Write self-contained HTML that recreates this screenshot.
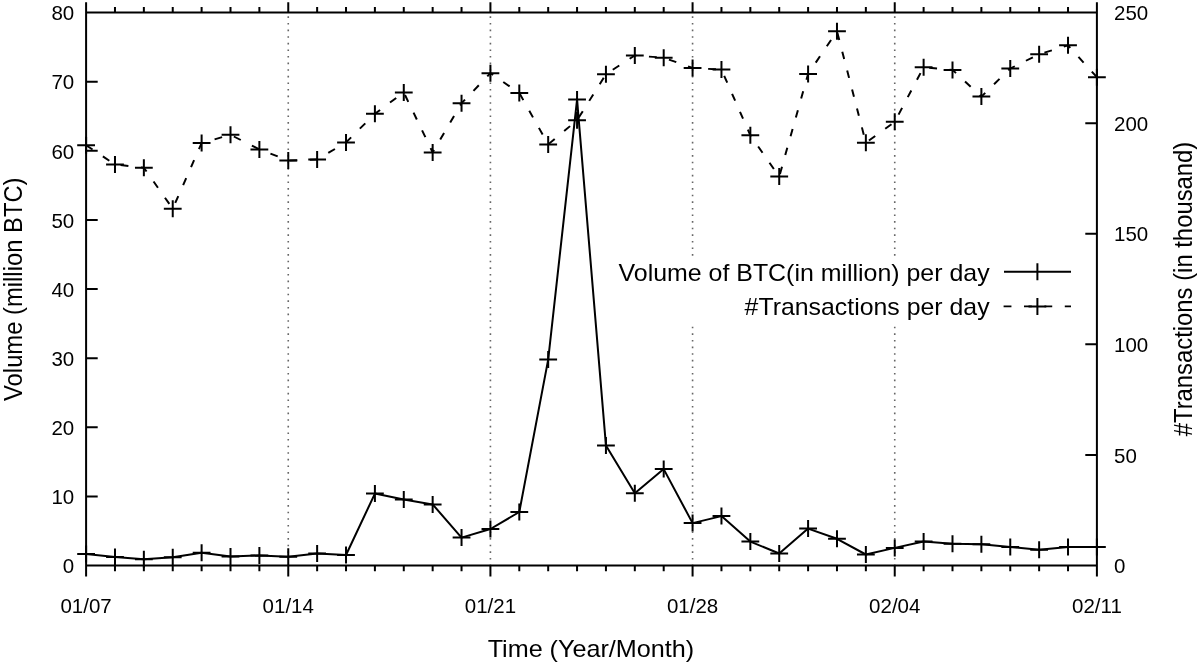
<!DOCTYPE html><html><head><meta charset="utf-8"><style>html,body{margin:0;padding:0;background:#fff;}svg{display:block;will-change:transform;}text{font-family:"Liberation Sans",sans-serif;fill:#000;}</style></head><body>
<svg width="1200" height="666" viewBox="0 0 1200 666">
<rect x="0" y="0" width="1200" height="666" fill="#fff"/>
<path d="M288.26 566.1V13.6" stroke="#666" stroke-width="1.6" stroke-dasharray="1.6 5.004" fill="none"/>
<path d="M490.42 566.1V13.6" stroke="#666" stroke-width="1.6" stroke-dasharray="1.6 5.004" fill="none"/>
<path d="M692.58 566.1V13.6" stroke="#666" stroke-width="1.6" stroke-dasharray="1.6 5.004" fill="none"/>
<path d="M894.74 566.1V13.6" stroke="#666" stroke-width="1.6" stroke-dasharray="1.6 5.004" fill="none"/>
<path d="M86.1 12.6H1096.9V565.5H86.1ZM86.1 565.5V576.6M86.1 12.6V2.3M114.98 565.5V571.2M114.98 12.6V7M143.86 565.5V571.2M143.86 12.6V7M172.74 565.5V571.2M172.74 12.6V7M201.62 565.5V571.2M201.62 12.6V7M230.5 565.5V571.2M230.5 12.6V7M259.38 565.5V571.2M259.38 12.6V7M288.26 565.5V576.6M288.26 12.6V2.3M317.14 565.5V571.2M317.14 12.6V7M346.02 565.5V571.2M346.02 12.6V7M374.9 565.5V571.2M374.9 12.6V7M403.78 565.5V571.2M403.78 12.6V7M432.66 565.5V571.2M432.66 12.6V7M461.54 565.5V571.2M461.54 12.6V7M490.42 565.5V576.6M490.42 12.6V2.3M519.3 565.5V571.2M519.3 12.6V7M548.18 565.5V571.2M548.18 12.6V7M577.06 565.5V571.2M577.06 12.6V7M605.94 565.5V571.2M605.94 12.6V7M634.82 565.5V571.2M634.82 12.6V7M663.7 565.5V571.2M663.7 12.6V7M692.58 565.5V576.6M692.58 12.6V2.3M721.46 565.5V571.2M721.46 12.6V7M750.34 565.5V571.2M750.34 12.6V7M779.22 565.5V571.2M779.22 12.6V7M808.1 565.5V571.2M808.1 12.6V7M836.98 565.5V571.2M836.98 12.6V7M865.86 565.5V571.2M865.86 12.6V7M894.74 565.5V576.6M894.74 12.6V2.3M923.62 565.5V571.2M923.62 12.6V7M952.5 565.5V571.2M952.5 12.6V7M981.38 565.5V571.2M981.38 12.6V7M1010.26 565.5V571.2M1010.26 12.6V7M1039.14 565.5V571.2M1039.14 12.6V7M1068.02 565.5V571.2M1068.02 12.6V7M1096.9 565.5V576.6M1096.9 12.6V2.3M86.1 496.39h11.6M86.1 427.27h11.6M86.1 358.16h11.6M86.1 289.05h11.6M86.1 219.94h11.6M86.1 150.83h11.6M86.1 81.71h11.6M1096.9 454.92h-11.6M1096.9 344.34h-11.6M1096.9 233.76h-11.6M1096.9 123.18h-11.6" stroke="#000" stroke-width="2.0" fill="none"/>
<text transform="translate(74.2 573.2) scale(1.025 1)" font-size="20" text-anchor="end">0</text>
<text transform="translate(74.2 504.09) scale(1.025 1)" font-size="20" text-anchor="end">10</text>
<text transform="translate(74.2 434.97) scale(1.025 1)" font-size="20" text-anchor="end">20</text>
<text transform="translate(74.2 365.86) scale(1.025 1)" font-size="20" text-anchor="end">30</text>
<text transform="translate(74.2 296.75) scale(1.025 1)" font-size="20" text-anchor="end">40</text>
<text transform="translate(74.2 227.64) scale(1.025 1)" font-size="20" text-anchor="end">50</text>
<text transform="translate(74.2 158.53) scale(1.025 1)" font-size="20" text-anchor="end">60</text>
<text transform="translate(74.2 89.41) scale(1.025 1)" font-size="20" text-anchor="end">70</text>
<text transform="translate(74.2 20.3) scale(1.025 1)" font-size="20" text-anchor="end">80</text>
<text transform="translate(1114 573.2) scale(1.025 1)" font-size="20">0</text>
<text transform="translate(1114 462.62) scale(1.025 1)" font-size="20">50</text>
<text transform="translate(1114 352.04) scale(1.025 1)" font-size="20">100</text>
<text transform="translate(1114 241.46) scale(1.025 1)" font-size="20">150</text>
<text transform="translate(1114 130.88) scale(1.025 1)" font-size="20">200</text>
<text transform="translate(1114 20.3) scale(1.025 1)" font-size="20">250</text>
<text transform="translate(86.1 612.8) scale(1.025 1)" font-size="20" text-anchor="middle">01/07</text>
<text transform="translate(288.26 612.8) scale(1.025 1)" font-size="20" text-anchor="middle">01/14</text>
<text transform="translate(490.42 612.8) scale(1.025 1)" font-size="20" text-anchor="middle">01/21</text>
<text transform="translate(692.58 612.8) scale(1.025 1)" font-size="20" text-anchor="middle">01/28</text>
<text transform="translate(894.74 612.8) scale(1.025 1)" font-size="20" text-anchor="middle">02/04</text>
<text transform="translate(1096.9 612.8) scale(1.025 1)" font-size="20" text-anchor="middle">02/11</text>
<text x="590.9" y="656.8" font-size="24" text-anchor="middle" textLength="206.5" lengthAdjust="spacingAndGlyphs">Time (Year/Month)</text>
<text transform="translate(22 289.2) scale(1.046 1) rotate(-90)" font-size="24" text-anchor="middle" textLength="223.5" lengthAdjust="spacingAndGlyphs">Volume (million BTC)</text>
<text transform="translate(1191.5 289) scale(1.046 1) rotate(-90)" font-size="24" text-anchor="middle" textLength="294.5" lengthAdjust="spacingAndGlyphs">#Transactions (in thousand)</text>
<g transform="scale(1.046 1)"><path d="M82.31 145.3 L109.92 164.4 L137.53 167.7 L165.14 208.7 L192.75 143 L220.36 134.8 L247.97 149.4 L275.58 160.5 L303.19 159.5 L330.8 142.4 L358.41 113.8 L386.02 92.4 L413.63 152.4 L441.24 103.2 L468.85 73.2 L496.46 93 L524.07 144.4 L551.68 120.3 L579.29 74.2 L606.9 55.5 L634.51 57.7 L662.12 68 L689.73 69.6 L717.34 135.3 L744.95 176.6 L772.56 73.9 L800.17 31.2 L827.78 142.7 L855.39 121.8 L883 67.2 L910.61 69.9 L938.22 96.6 L965.83 68.5 L993.44 54.2 L1021.05 45.3 L1048.66 77.2" stroke="#000" stroke-width="1.9" fill="none" stroke-dasharray="7.5 12" stroke-linejoin="round"/></g>
<path d="M77.2 145.3h17.8M86.1 136.8v17M106.08 164.4h17.8M114.98 155.9v17M134.96 167.7h17.8M143.86 159.2v17M163.84 208.7h17.8M172.74 200.2v17M192.72 143h17.8M201.62 134.5v17M221.6 134.8h17.8M230.5 126.3v17M250.48 149.4h17.8M259.38 140.9v17M279.36 160.5h17.8M288.26 152v17M308.24 159.5h17.8M317.14 151v17M337.12 142.4h17.8M346.02 133.9v17M366 113.8h17.8M374.9 105.3v17M394.88 92.4h17.8M403.78 83.9v17M423.76 152.4h17.8M432.66 143.9v17M452.64 103.2h17.8M461.54 94.7v17M481.52 73.2h17.8M490.42 64.7v17M510.4 93h17.8M519.3 84.5v17M539.28 144.4h17.8M548.18 135.9v17M568.16 120.3h17.8M577.06 111.8v17M597.04 74.2h17.8M605.94 65.7v17M625.92 55.5h17.8M634.82 47v17M654.8 57.7h17.8M663.7 49.2v17M683.68 68h17.8M692.58 59.5v17M712.56 69.6h17.8M721.46 61.1v17M741.44 135.3h17.8M750.34 126.8v17M770.32 176.6h17.8M779.22 168.1v17M799.2 73.9h17.8M808.1 65.4v17M828.08 31.2h17.8M836.98 22.7v17M856.96 142.7h17.8M865.86 134.2v17M885.84 121.8h17.8M894.74 113.3v17M914.72 67.2h17.8M923.62 58.7v17M943.6 69.9h17.8M952.5 61.4v17M972.48 96.6h17.8M981.38 88.1v17M1001.36 68.5h17.8M1010.26 60v17M1030.24 54.2h17.8M1039.14 45.7v17M1059.12 45.3h17.8M1068.02 36.8v17M1088 77.2h17.8M1096.9 68.7v17" stroke="#000" stroke-width="2.0" fill="none"/>
<path d="M86.1 554 L114.98 557 L143.86 559.25 L172.74 557.3 L201.62 552.8 L230.5 556.55 L259.38 555.5 L288.26 556.7 L317.14 553.5 L346.02 555 L374.9 493.6 L403.78 499.6 L432.66 504.4 L461.54 537.6 L490.42 529 L519.3 512 L548.18 359.6 L577.06 99.6 L605.94 445.4 L634.82 493.2 L663.7 469.1 L692.58 523.1 L721.46 516.1 L750.34 541.6 L779.22 553.5 L808.1 528.6 L836.98 538.8 L865.86 554.5 L894.74 547.9 L923.62 541.5 L952.5 543.7 L981.38 544.25 L1010.26 547 L1039.14 549.75 L1068.02 547 L1096.9 547" stroke="#000" stroke-width="2.0" fill="none" stroke-linejoin="round"/>
<path d="M77.2 554h17.8M86.1 545.5v17M106.08 557h17.8M114.98 548.5v17M134.96 559.25h17.8M143.86 550.75v17M163.84 557.3h17.8M172.74 548.8v17M192.72 552.8h17.8M201.62 544.3v17M221.6 556.55h17.8M230.5 548.05v17M250.48 555.5h17.8M259.38 547v17M279.36 556.7h17.8M288.26 548.2v17M308.24 553.5h17.8M317.14 545v17M337.12 555h17.8M346.02 546.5v17M366 493.6h17.8M374.9 485.1v17M394.88 499.6h17.8M403.78 491.1v17M423.76 504.4h17.8M432.66 495.9v17M452.64 537.6h17.8M461.54 529.1v17M481.52 529h17.8M490.42 520.5v17M510.4 512h17.8M519.3 503.5v17M539.28 359.6h17.8M548.18 351.1v17M568.16 99.6h17.8M577.06 91.1v17M597.04 445.4h17.8M605.94 436.9v17M625.92 493.2h17.8M634.82 484.7v17M654.8 469.1h17.8M663.7 460.6v17M683.68 523.1h17.8M692.58 514.6v17M712.56 516.1h17.8M721.46 507.6v17M741.44 541.6h17.8M750.34 533.1v17M770.32 553.5h17.8M779.22 545v17M799.2 528.6h17.8M808.1 520.1v17M828.08 538.8h17.8M836.98 530.3v17M856.96 554.5h17.8M865.86 546v17M885.84 547.9h17.8M894.74 539.4v17M914.72 541.5h17.8M923.62 533v17M943.6 543.7h17.8M952.5 535.2v17M972.48 544.25h17.8M981.38 535.75v17M1001.36 547h17.8M1010.26 538.5v17M1030.24 549.75h17.8M1039.14 541.25v17M1059.12 547h17.8M1068.02 538.5v17M1088 547h17.8M1096.9 538.5v17" stroke="#000" stroke-width="2.0" fill="none"/>
<rect x="612" y="257" width="470" height="66" fill="#fff"/>
<text x="989.6" y="280.8" font-size="24" text-anchor="end" textLength="371.0" lengthAdjust="spacingAndGlyphs">Volume of BTC(in million) per day</text>
<text x="989.6" y="315.3" font-size="24" text-anchor="end" textLength="245.0" lengthAdjust="spacingAndGlyphs">#Transactions per day</text>
<path d="M1004 271.8H1071M1037.4 263.3v17" stroke="#000" stroke-width="2.0" fill="none"/>
<g transform="scale(1.046 1)"><path d="M959.46 306.4H1023.9" stroke="#000" stroke-width="1.9" fill="none" stroke-dasharray="7.5 12"/></g>
<path d="M1028.5 306.4h17.8M1037.4 297.9v17" stroke="#000" stroke-width="2.0" fill="none"/>
</svg></body></html>
